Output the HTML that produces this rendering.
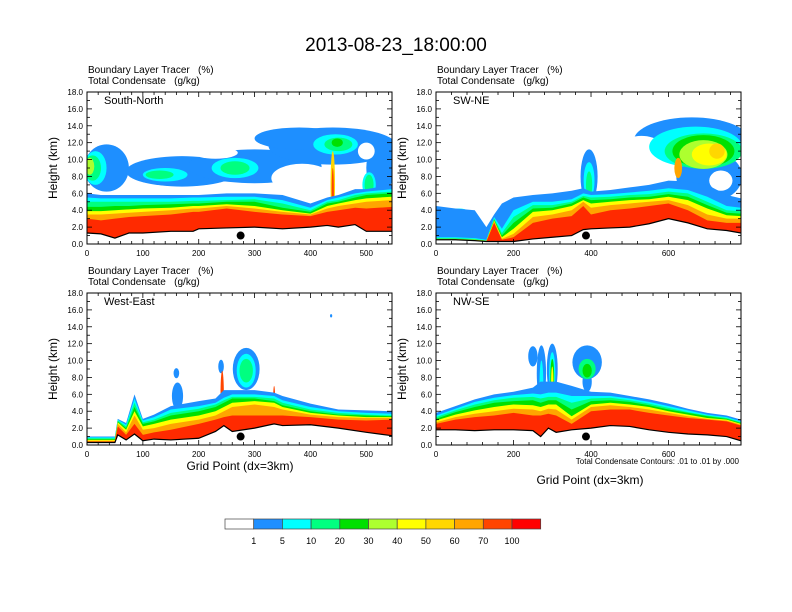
<!DOCTYPE html>
<html><head><meta charset="utf-8">
<style>
body{margin:0;background:#fff;}
svg{display:block;font-family:"Liberation Sans",sans-serif;}
text{white-space:pre;}
</style></head>
<body>
<svg id="chart" width="792" height="612" viewBox="0 0 792 612">
<text x="396" y="51" font-size="19" text-anchor="middle">2013-08-23_18:00:00</text>
</svg>
<script>
const NS='http://www.w3.org/2000/svg';
const svg=document.getElementById('chart');
function mk(tag,attrs,parent){const e=document.createElementNS(NS,tag);for(const k in attrs)e.setAttribute(k,attrs[k]);(parent||svg).appendChild(e);return e;}

const levelColors=['#ffffff','#1e8fff','#00ffff','#00ff80','#00e000','#adff2f','#ffff00','#ffd700','#ffa500','#ff4500','#ff0000'];
const levelLabels=['1','5','10','20','30','40','50','60','70','100'];

// ---- Panel 1: South-North ----
const p1Title='South-North';
const p1X=[0,25,50,75,100,150,190,200,250,300,350,400,430,450,480,500,546];
const p1Terrain=[1.3,1.2,0.7,1.3,1.3,1.5,1.5,1.8,1.9,2.0,1.8,2.0,2.2,2.0,2.3,1.5,1.5];
const p1Red=[3.0,2.8,3.0,3.2,3.3,3.5,3.8,3.8,4.2,3.8,3.5,3.3,3.8,4.0,4.3,4.2,4.4];
const p1Orange=[3.5,3.5,3.6,3.7,3.8,4.0,4.2,4.2,4.5,4.2,3.8,3.5,4.2,4.5,4.8,5.0,5.2];
const p1Yellow=[3.9,3.9,4.0,4.1,4.2,4.3,4.5,4.5,4.7,4.5,4.0,3.6,4.5,4.8,5.2,5.4,5.6];
const p1Green=[4.4,4.4,4.5,4.5,4.6,4.7,4.8,4.8,5.0,5.0,4.3,3.8,4.8,5.0,5.5,5.8,6.0];
const p1Spring=[5.0,5.0,5.0,5.0,5.0,5.0,5.1,5.1,5.2,5.3,4.8,4.0,5.0,5.2,5.8,6.0,6.2];
const p1Cyan=[5.5,5.4,5.4,5.4,5.4,5.4,5.5,5.5,5.6,5.6,5.2,4.3,5.2,5.5,6.0,6.2,6.5];
const p1Blue=[6.0,5.8,5.8,5.8,5.8,5.8,5.8,5.8,6.0,6.0,5.8,4.8,5.5,5.8,6.5,6.5,7.0];
const p1Blobs=[[35,9,40,2.8,1],[170,8.6,100,1.8,1],[300,9.2,120,2.0,1],[440,11.6,115,2.2,1],[525,9,25,3,1],[380,12.5,80,1.3,1],
 [110,6.4,45,0.6,0],[385,7.8,55,1.7,0],[300,6.6,55,0.5,0],[500,11.0,15,1.0,0],[230,10.8,40,0.7,0],
 [15,9,20,2,2],[140,8.2,40,0.8,2],[265,9,42,1.2,2],[445,11.8,40,1.2,2],[505,7,12,1.5,2],
 [10,9,15,1.5,3],[130,8.2,25,0.5,3],[265,9,26,0.8,3],[450,11.8,25,0.8,3],[505,7,8,1.2,3],
 [5,9.2,8,1,5],[448,12,10,0.5,4],[440,7,4,4,7],[440,6,2,3,9]];

// ---- Panel 2: SW-NE ----
const p2Title='SW-NE';
const p2X=[0,50,100,130,150,170,200,250,300,350,380,400,450,500,550,600,650,700,750,787];
const p2Terrain=[0.5,0.5,0.4,0.3,0.3,0.3,0.3,0.6,0.8,1.0,1.7,1.8,1.9,2.0,2.4,3.0,2.5,1.8,1.6,1.3];
const p2Red=[0.5,0.5,0.4,0.3,2.5,0.5,0.8,2.5,3.0,3.3,4.5,3.5,4.0,4.2,4.5,4.8,4.0,2.8,2.5,2.5];
const p2Orange=[0.5,0.5,0.4,0.3,2.7,0.6,1.2,3.2,3.5,4.0,5.0,4.3,4.6,4.8,5.0,5.2,4.6,3.5,3.0,3.0];
const p2Yellow=[0.6,0.6,0.5,0.4,2.8,0.8,1.8,3.8,4.0,4.5,5.2,4.8,5.0,5.2,5.3,5.6,5.2,4.2,3.4,3.3];
const p2Green=[0.6,0.6,0.5,0.4,2.9,1.0,2.5,4.2,4.3,4.8,5.5,5.2,5.3,5.5,5.6,5.9,5.6,4.6,3.7,3.6];
const p2Spring=[0.7,0.7,0.6,0.4,3.0,1.3,3.2,4.6,4.6,5.0,5.7,5.5,5.6,5.8,5.9,6.2,6.0,5.0,4.0,3.9];
const p2Cyan=[0.8,0.8,0.7,0.5,3.2,1.8,4.0,5.0,5.0,5.3,6.0,5.8,5.9,6.1,6.3,6.6,6.4,5.6,4.5,4.3];
const p2Blue=[4.5,4.2,4.0,2.0,3.5,4.8,5.5,5.8,6.0,6.3,6.6,6.2,6.4,6.7,7.0,7.5,7.4,7.0,5.8,5.4];
const p2Blobs=[[60,1.6,50,0.9,0],[165,1.4,25,0.9,0],[60,3.2,35,1.0,2],[50,3,15,0.6,3],
 [660,12.2,150,2.8,1],[705,8,85,3,1],[395,8,22,3.2,1],[395,7.5,14,2.2,2],[395,7,8,1.6,3],
 [530,10.2,75,2.6,0],[735,7.5,30,1.2,0],[705,3.5,25,0.7,0],
 [670,11.5,120,2.4,2],[690,11,100,2.1,3],[690,11,80,1.9,4],[690,10.6,62,1.7,5],[705,10.6,45,1.3,6],[725,11,20,0.9,7],[625,9,10,1.2,8]];

// ---- Panel 3: West-East ----
const p3Title='West-East';
const p3X=[0,50,55,70,85,100,120,150,200,230,245,260,300,335,350,400,450,500,546];
const p3Terrain=[0.3,0.3,1.2,0.6,1.3,0.5,0.7,0.6,0.8,1.6,2.3,1.6,2.0,2.5,2.3,2.4,2.0,1.5,1.1];
const p3Red=[0.4,0.4,2.2,1.2,2.5,1.2,1.5,1.8,2.5,3.0,3.3,3.5,3.5,3.5,3.5,3.3,3.0,2.9,3.0];
const p3Orange=[0.5,0.5,2.5,1.5,3.5,1.8,2.0,2.5,3.0,3.5,4.0,4.5,4.8,4.5,4.2,3.6,3.3,3.2,3.2];
const p3Yellow=[0.6,0.6,2.7,1.8,4.0,2.2,2.5,3.0,3.5,4.0,4.5,5.0,5.2,5.0,4.5,3.8,3.5,3.3,3.3];
const p3Green=[0.7,0.7,2.8,2.0,4.5,2.5,2.8,3.5,4.0,4.5,5.0,5.5,5.5,5.2,4.7,4.0,3.6,3.5,3.4];
const p3Spring=[0.8,0.8,2.9,2.2,5.0,2.7,3.0,3.8,4.3,4.8,5.3,5.7,5.7,5.5,5.0,4.2,3.8,3.6,3.5];
const p3Cyan=[0.9,0.9,3.0,2.4,5.5,2.9,3.3,4.2,4.6,5.0,5.6,6.0,6.0,5.8,5.3,4.5,4.0,3.8,3.7];
const p3Blue=[1.0,1.0,3.1,2.6,6.0,3.1,3.6,4.6,5.2,5.5,6.5,6.5,6.5,6.2,5.8,4.9,4.2,4.1,4.0];
const p3Blobs=[[160,8.5,5,0.6,1],[240,9.3,5,0.8,1],[437,15.3,2,0.2,1],[162,5.8,10,1.6,1],[285,9,24,2.5,1],
 [285,8.8,17,2.0,2],[285,8.8,12,1.4,3],[242,6,3,2.8,9],[335,5,2,2,9]];

// ---- Panel 4: NW-SE ----
const p4Title='NW-SE';
const p4X=[0,50,100,150,200,250,270,290,310,350,400,450,500,550,600,650,700,750,787];
const p4Terrain=[1.8,1.8,1.7,1.8,1.8,1.7,1.0,2.0,1.5,1.8,2.0,2.3,2.2,1.8,1.5,1.3,1.2,1.0,0.5];
const p4Red=[2.5,3.0,3.3,3.5,3.8,3.5,3.5,3.7,3.5,2.5,4.0,4.2,4.2,3.8,3.5,3.2,3.0,2.8,2.3];
const p4Orange=[2.7,3.3,3.7,4.0,4.3,4.2,4.0,4.3,4.2,3.0,4.5,4.7,4.5,4.2,3.8,3.4,3.1,2.9,2.4];
const p4Yellow=[2.9,3.6,4.1,4.5,4.8,4.7,4.5,4.8,4.8,3.4,4.8,5.0,4.8,4.5,4.0,3.6,3.2,3.0,2.5];
const p4Green=[3.1,3.9,4.5,5.0,5.2,5.3,5.0,5.3,5.3,4.2,5.2,5.3,5.1,4.7,4.2,3.8,3.4,3.1,2.6];
const p4Spring=[3.3,4.1,4.8,5.3,5.6,5.7,5.5,5.7,5.7,5.0,5.5,5.6,5.3,4.9,4.4,3.9,3.5,3.2,2.7];
const p4Cyan=[3.5,4.3,5.1,5.6,5.9,6.1,6.0,6.2,6.2,5.8,5.8,5.8,5.5,5.1,4.6,4.1,3.6,3.3,2.8];
const p4Blue=[3.8,4.6,5.4,6.0,6.3,6.8,7.5,7.5,7.5,7.0,6.3,6.2,5.8,5.4,4.9,4.3,3.8,3.5,3.0];
const p4Blobs=[[250,10.5,12,1.2,1],[272,8.5,12,3.3,1],[300,9,14,3,1],[390,9.8,38,2,1],[390,7.5,12,1.2,1],
 [272,7,5,3,2],[300,8.5,8,2.5,2],[300,8,5,2.2,4],[300,7.5,3,1.8,6],[390,9,22,1.2,3],[390,8.8,12,0.8,4],[280,4.5,4,1.5,8]];

const panels=[
 {title:p1Title,xs:p1X,t:p1Terrain,bands:[p1Blue,p1Cyan,p1Spring,p1Green,p1Yellow,p1Orange,p1Red],blobs:p1Blobs,x0:87,y0:92,xmax:546,ticks:[0,100,200,300,400,500],minor:20,dot:275,key:'south-north'},
 {title:p2Title,xs:p2X,t:p2Terrain,bands:[p2Blue,p2Cyan,p2Spring,p2Green,p2Yellow,p2Orange,p2Red],blobs:p2Blobs,x0:436,y0:92,xmax:787,ticks:[0,200,400,600],minor:40,dot:387,key:'sw-ne'},
 {title:p3Title,xs:p3X,t:p3Terrain,bands:[p3Blue,p3Cyan,p3Spring,p3Green,p3Yellow,p3Orange,p3Red],blobs:p3Blobs,x0:87,y0:293,xmax:546,ticks:[0,100,200,300,400,500],minor:20,dot:275,key:'west-east'},
 {title:p4Title,xs:p4X,t:p4Terrain,bands:[p4Blue,p4Cyan,p4Spring,p4Green,p4Yellow,p4Orange,p4Red],blobs:p4Blobs,x0:436,y0:293,xmax:787,ticks:[0,200,400,600],minor:40,dot:387,key:'nw-se'}
];
const bandColors=['#1e8fff','#00ffff','#00ff80','#00e000','#ffff00','#ffa500','#ff2a00'];
const W=305,H=152,YMAX=18;

panels.forEach((p,pi)=>{
 const sx=v=>p.x0+v/p.xmax*W, sy=k=>p.y0+H-k/YMAX*H;
 const g=mk('g',{});
 
 
 const clipId='clip'+pi;
 const cp=mk('clipPath',{id:clipId},g);mk('rect',{x:p.x0,y:p.y0,width:W,height:H},cp);
 const plot=mk('g',{'clip-path':'url(#'+clipId+')'},g);
 function bandPath(top){
  let d='M'+sx(p.xs[0])+','+sy(p.t[0]);
  p.xs.forEach((x,i)=>{d+=' L'+sx(x)+','+sy(top[i]);});
  for(let i=p.xs.length-1;i>=0;i--)d+=' L'+sx(p.xs[i])+','+sy(p.t[i]);
  return d+'Z';
 }
 p.blobs.forEach(b=>{
  const e=mk('ellipse',{cx:sx(b[0]),cy:sy(b[1]),rx:b[2]/p.xmax*W,ry:b[3]/YMAX*H,fill:levelColors[b[4]]},plot);
  
  
 });
 p.bands.forEach((arr,bi)=>{
  const e=mk('path',{d:bandPath(arr),fill:bandColors[bi]},plot);
  
  
 });
 let td='M'+sx(p.xs[0])+','+sy(p.t[0]);p.xs.forEach((x,i)=>{td+=' L'+sx(x)+','+sy(p.t[i]);});
 const tf=mk('path',{d:td+' L'+sx(p.xmax)+','+(p.y0+H)+' L'+p.x0+','+(p.y0+H)+'Z',fill:'#fff'},plot);
 
 const tl=mk('path',{d:td,fill:'none',stroke:'#000','stroke-width':1.2},plot);
 
 const dot=mk('circle',{cx:sx(p.dot),cy:sy(1.0),r:4,fill:'#000'},plot);
 
 const fr=mk('rect',{x:p.x0,y:p.y0,width:W,height:H,fill:'none',stroke:'#000','stroke-width':1},g);
 
 for(let k=0;k<=YMAX;k++){
  const y=sy(k),len=k%2===0?5:3;
  mk('line',{x1:p.x0,x2:p.x0+len,y1:y,y2:y,stroke:'#000','stroke-width':0.8},g);
  mk('line',{x1:p.x0+W,x2:p.x0+W-len,y1:y,y2:y,stroke:'#000','stroke-width':0.8},g);
  if(k%2===0){const t=mk('text',{x:p.x0-4,y:y+3,'font-size':8,'text-anchor':'end'},g);t.textContent=k.toFixed(1);
   }
 }
 for(let v=0;v<=p.xmax;v+=p.minor){
  const x=sx(v),major=p.ticks.includes(v),len=major?5:3;
  mk('line',{x1:x,x2:x,y1:p.y0+H,y2:p.y0+H-len,stroke:'#000','stroke-width':0.8},g);
  mk('line',{x1:x,x2:x,y1:p.y0,y2:p.y0+len,stroke:'#000','stroke-width':0.8},g);
 }
 p.ticks.forEach(v=>{const t=mk('text',{x:sx(v),y:p.y0+H+12,'font-size':8,'text-anchor':'middle'},g);t.textContent=v;
  });
 const yt=mk('text',{x:0,y:0,'font-size':12,'text-anchor':'middle',transform:'translate('+(p.x0-30)+','+(p.y0+H/2)+') rotate(-90)'},g);
 yt.textContent='Height (km)';
 const h1=mk('text',{x:p.x0+1,y:p.y0-19,'font-size':10},g);h1.textContent='Boundary Layer Tracer   (%)';
 
 const h2=mk('text',{x:p.x0+1,y:p.y0-8,'font-size':10},g);h2.textContent='Total Condensate   (g/kg)';
 
 const pt=mk('text',{x:p.x0+17,y:p.y0+12,'font-size':11},g);pt.textContent=p.title;
 
});
[[240,470],[590,484]].forEach(a=>{const t=mk('text',{x:a[0],y:a[1],'font-size':12,'text-anchor':'middle'});t.textContent='Grid Point (dx=3km)';
 });
const ci=mk('text',{x:739,y:464,'font-size':8,'text-anchor':'end'});ci.textContent='Total Condensate Contours: .01 to .01 by .000';

const cb=mk('g',{});
const cbx=225,cbw=28.7;
levelColors.forEach((c,i)=>{const r=mk('rect',{x:cbx+i*cbw,y:519,width:cbw,height:10,fill:c,stroke:'#444','stroke-width':0.7},cb);
 });
levelLabels.forEach((l,i)=>{const t=mk('text',{x:cbx+(i+1)*cbw,y:544,'font-size':9,'text-anchor':'middle'},cb);t.textContent=l;
 });
</script>
</body></html>
